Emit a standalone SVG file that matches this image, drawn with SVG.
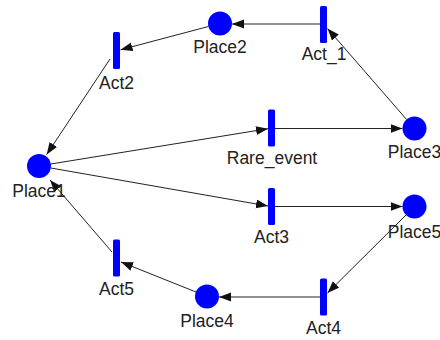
<svg xmlns="http://www.w3.org/2000/svg" width="440" height="340" viewBox="0 0 440 340">
<style>
.place{fill:#0000ff}
.trans{fill:#0000ff}
.lbl{font-family:"Liberation Sans",Arial,sans-serif;font-size:17.5px;fill:#222;text-anchor:middle}
.arc{stroke:#222;stroke-width:1;fill:none;marker-end:url(#ah)}
</style>
<defs>
<marker id="ah" markerUnits="userSpaceOnUse" markerWidth="13" markerHeight="10" refX="12" refY="4.5" orient="auto">
<path d="M0,0 L12,4.5 L0,9 z" fill="#111"/>
</marker>
</defs>
<rect width="440" height="340" fill="#ffffff"/>
<g id="connectors">
<line class="arc" x1="320" y1="24" x2="232" y2="24"/>
<line class="arc" x1="208.4" y1="26.5" x2="120.5" y2="49.8"/>
<line class="arc" x1="110" y1="59" x2="46.7" y2="154.5"/>
<line class="arc" x1="406.6" y1="119.5" x2="327.5" y2="28.5"/>
<line class="arc" x1="50.8" y1="164" x2="268" y2="128.7"/>
<line class="arc" x1="275" y1="128.5" x2="402.5" y2="128.5"/>
<line class="arc" x1="50.8" y1="168" x2="268" y2="206"/>
<line class="arc" x1="275" y1="206.5" x2="402.5" y2="206.5"/>
<line class="arc" x1="406" y1="215" x2="327.5" y2="293"/>
<line class="arc" x1="320" y1="297" x2="219" y2="297"/>
<line class="arc" x1="196" y1="292" x2="121" y2="262"/>
<line class="arc" x1="112" y1="252" x2="50" y2="180"/>
</g>
<g id="Place1"><circle class="place" cx="39" cy="166" r="12"/><text class="lbl" x="39" y="197">Place1</text></g>
<g id="Place2"><circle class="place" cx="220" cy="23.5" r="12"/><text class="lbl" x="220" y="53">Place2</text></g>
<g id="Place3"><circle class="place" cx="414.5" cy="128.5" r="12"/><text class="lbl" x="414.5" y="158">Place3</text></g>
<g id="Place4"><circle class="place" cx="207" cy="296.5" r="12"/><text class="lbl" x="207" y="327">Place4</text></g>
<g id="Place5"><circle class="place" cx="414.5" cy="206.5" r="12"/><text class="lbl" x="414.5" y="238">Place5</text></g>
<g id="Act2"><rect class="trans" x="113" y="32" width="7" height="37" rx="1.5"/><text class="lbl" x="116.5" y="89">Act2</text></g>
<g id="Act_1"><rect class="trans" x="320" y="6" width="7" height="37" rx="1.5"/><text class="lbl" x="324" y="60">Act_1</text></g>
<g id="Rare_event"><rect class="trans" x="268" y="109.5" width="7" height="37" rx="1.5"/><text class="lbl" x="272" y="164">Rare_event</text></g>
<g id="Act3"><rect class="trans" x="268" y="188" width="7" height="37" rx="1.5"/><text class="lbl" x="271.5" y="243">Act3</text></g>
<g id="Act4"><rect class="trans" x="320" y="278.5" width="7" height="37" rx="1.5"/><text class="lbl" x="323.5" y="334">Act4</text></g>
<g id="Act5"><rect class="trans" x="113" y="239.5" width="7" height="37" rx="1.5"/><text class="lbl" x="116.5" y="295">Act5</text></g>
</svg>
